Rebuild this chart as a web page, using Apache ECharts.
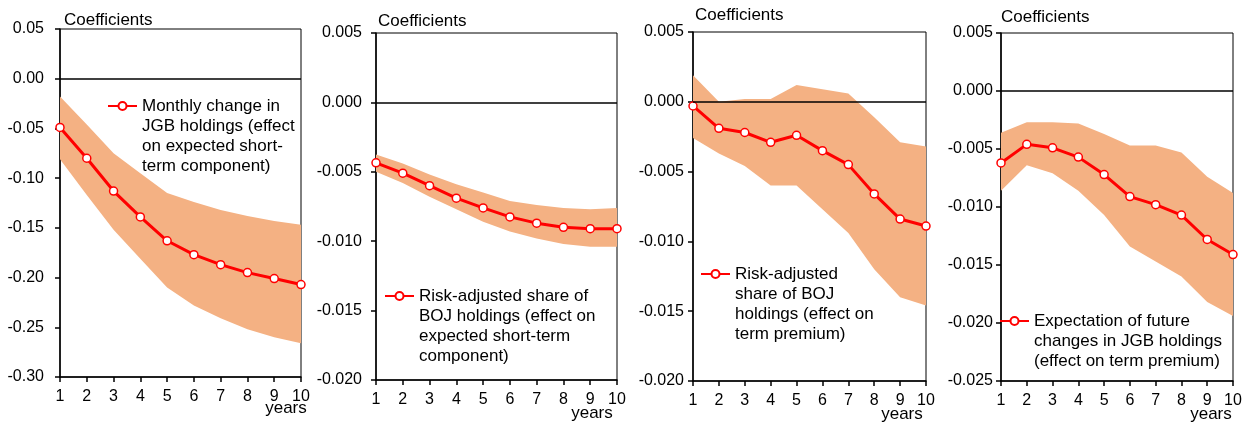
<!DOCTYPE html>
<html><head><meta charset="utf-8">
<script src="https://cdn.jsdelivr.net/npm/echarts@6/dist/echarts.min.js"></script>
<style>html,body{margin:0;padding:0;background:#fff}#c{width:1253px;height:423px}</style>
</head><body><div id="c"></div>
<script>
const years = ['1','2','3','4','5','6','7','8','9','10'];

const p1Mid = [-0.049,-0.080,-0.113,-0.139,-0.163,-0.177,-0.187,-0.195,-0.201,-0.207];
const p1Up  = [-0.018,-0.046,-0.075,-0.095,-0.115,-0.124,-0.132,-0.138,-0.143,-0.147];
const p1Lo  = [-0.081,-0.117,-0.152,-0.181,-0.210,-0.228,-0.241,-0.252,-0.260,-0.266];

const p2Mid = [-0.00435,-0.0051,-0.0060,-0.0069,-0.0076,-0.00825,-0.0087,-0.0090,-0.0091,-0.0091];
const p2Up  = [-0.00375,-0.0044,-0.0052,-0.0059,-0.0065,-0.0071,-0.0074,-0.0076,-0.0077,-0.0076];
const p2Lo  = [-0.0050,-0.0058,-0.0068,-0.0077,-0.0086,-0.0093,-0.0098,-0.0102,-0.0104,-0.0104];

const p3Mid = [-0.0003,-0.0019,-0.0022,-0.0029,-0.0024,-0.0035,-0.0045,-0.0066,-0.0084,-0.0089];
const p3Up  = [0.0019,0.0000,0.0002,0.0002,0.0012,0.0009,0.0006,-0.0011,-0.0029,-0.0032];
const p3Lo  = [-0.0026,-0.0037,-0.0046,-0.0060,-0.0060,-0.0077,-0.0094,-0.0120,-0.0140,-0.0146];

const p4Mid = [-0.0062,-0.0046,-0.0049,-0.0057,-0.0072,-0.0091,-0.0098,-0.0107,-0.0128,-0.0141];
const p4Up  = [-0.0036,-0.0027,-0.0027,-0.0028,-0.0037,-0.0047,-0.0047,-0.0053,-0.0074,-0.0088];
const p4Lo  = [-0.0086,-0.0064,-0.0071,-0.0086,-0.0107,-0.0134,-0.0147,-0.0160,-0.0182,-0.0194];

const legend1 = ['Monthly change in','JGB holdings (effect','on expected short-','term component)'];
const legend2 = ['Risk-adjusted share of','BOJ holdings (effect on','expected short-term','component)'];
const legend3 = ['Risk-adjusted','share of BOJ','holdings (effect on','term premium)'];
const legend4 = ['Expectation of future','changes in JGB holdings','(effect on term premium)'];

const yTitle = 'Coefficients';
const xTitle = 'years';

const yMin = [-0.30,-0.020,-0.020,-0.025];
const yMax = [0.05,0.005,0.005,0.005];
const yInt = [0.05,0.005,0.005,0.005];
const yDec = [2,3,3,3];

const FONT = '"Liberation Sans", Arial, sans-serif';
const BAND = '#F4B183';
const RED = '#FF0000';

const panels = [
  {mid:p1Mid, up:p1Up, lo:p1Lo, leg:legend1},
  {mid:p2Mid, up:p2Up, lo:p2Lo, leg:legend2},
  {mid:p3Mid, up:p3Up, lo:p3Lo, leg:legend3},
  {mid:p4Mid, up:p4Up, lo:p4Lo, leg:legend4}
];

const gridPos = [
  {left:60, top:29, width:241, height:348},
  {left:376, top:33, width:241, height:347},
  {left:693, top:32, width:233, height:351},
  {left:1001, top:33, width:232, height:351}
];
const yLabelMargin = [16,14,9,8];
const yNameGap = [9,12,17,16];
const yNamePadL = [4,2,2,0];
const xNameGap = [-15,-25,-24,-22];
const xNamePadT = [23,25,25,25];
const legendPos = [
  {left:107, icon:106},
  {left:384, icon:296},
  {left:700, icon:274},
  {left:999, icon:321}
];
const LH = 20;

const grid = [], xAxis = [], yAxis = [], series = [], legend = [];
panels.forEach((p, i) => {
  grid.push(Object.assign({show:true, borderColor:'#000', borderWidth:1, backgroundColor:'transparent', containLabel:false}, gridPos[i]));
  xAxis.push({
    type:'category', gridIndex:i, data:years, boundaryGap:false,
    axisLine:{onZero:false, lineStyle:{color:'#000', width:1.5}},
    axisTick:{show:true, inside:false, length:5, interval:0, lineStyle:{color:'#000', width:1.5}},
    axisLabel:{interval:0, color:'#000', fontSize:16, fontFamily:FONT, margin:12},
    splitLine:{show:false},
    name:xTitle, nameLocation:'end', nameGap:xNameGap[i], nameMoveOverlap:false,
    nameTextStyle:{color:'#000', fontSize:17, fontFamily:FONT, align:'center', verticalAlign:'top', padding:[xNamePadT[i],0,0,0]}
  });
  yAxis.push({
    type:'value', gridIndex:i, min:yMin[i], max:yMax[i], interval:yInt[i],
    axisLine:{show:true, onZero:false, lineStyle:{color:'#000', width:1.5}},
    axisTick:{show:true, inside:false, length:5, lineStyle:{color:'#000', width:1.5}},
    axisLabel:{color:'#000', fontSize:16, fontFamily:FONT, margin:yLabelMargin[i],
      formatter:(v)=> (Math.abs(v) < 1e-9 ? 0 : v).toFixed(yDec[i])},
    splitLine:{show:false},
    name:yTitle, nameLocation:'end', nameGap:yNameGap[i], nameMoveOverlap:false,
    nameTextStyle:{color:'#000', fontSize:17, fontFamily:FONT, align:'left', verticalAlign:'middle', padding:[0,0,0,yNamePadL[i]]}
  });
  const stackId = 'band' + i;
  series.push({
    type:'line', xAxisIndex:i, yAxisIndex:i, stack:stackId, stackStrategy:'all',
    data:p.lo, symbol:'none', silent:true, lineStyle:{opacity:0, width:0}, z:1
  });
  series.push({
    type:'line', xAxisIndex:i, yAxisIndex:i, stack:stackId, stackStrategy:'all',
    data:p.up.map((u, k) => u - p.lo[k]), symbol:'none', silent:true,
    lineStyle:{opacity:0, width:0}, areaStyle:{color:BAND, opacity:1}, z:1,
    markLine:{silent:true, symbol:['none','none'], label:{show:false},
      lineStyle:{color:'#000', width:1.5, type:'solid'}, data:[{yAxis:0}], animation:false}
  });
  const nm = p.leg.join(' ');
  series.push({
    name:nm, type:'line', xAxisIndex:i, yAxisIndex:i, data:p.mid,
    symbol:'circle', symbolSize:8, showAllSymbol:true, z:3,
    lineStyle:{color:RED, width:3},
    itemStyle:{color:'#fff', borderColor:RED, borderWidth:1.5}
  });
  const n = p.leg.length;
  // leading blank lines put the first text line level with the legend icon
  const pad = new Array(n - 1).fill('').join('\n');
  legend.push({
    data:[nm], left:legendPos[i].left, top:legendPos[i].icon - (2 * n - 1) * LH / 2, padding:0,
    orient:'vertical', itemWidth:29, itemHeight:10, itemGap:0, selectedMode:false,
    formatter:() => pad + '\n' + p.leg.join('\n'),
    textStyle:{color:'#000', fontSize:17, lineHeight:LH, fontFamily:FONT}
  });
});

const chart = echarts.init(document.getElementById('c'), null, {renderer:'canvas'});
chart.setOption({animation:false, backgroundColor:'#fff', grid, xAxis, yAxis, series, legend});
</script>
</body></html>
